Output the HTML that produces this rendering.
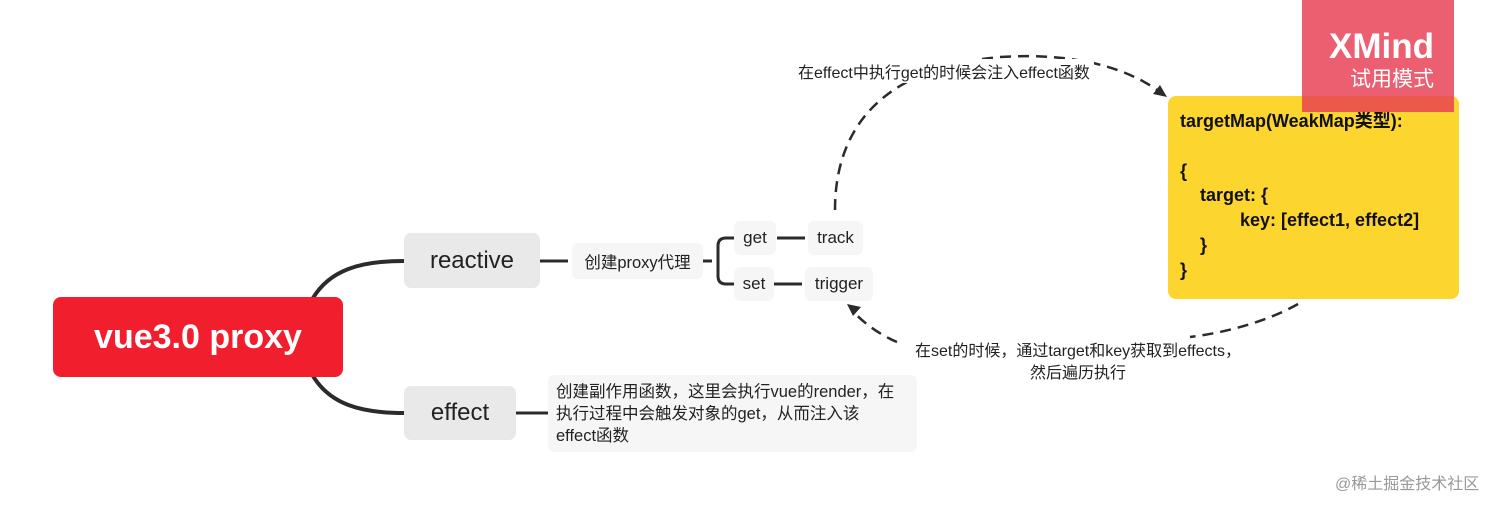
<!DOCTYPE html>
<html><head><meta charset="utf-8"><style>
body{margin:0;width:1512px;height:507px;background:#fff;position:relative;overflow:hidden;font-family:"Liberation Sans","Noto Sans CJK SC",sans-serif;color:#222}
.a{position:absolute;box-sizing:border-box;display:flex;align-items:center;justify-content:center;white-space:nowrap}
</style></head><body>
<svg width="1512" height="507" style="position:absolute;left:0;top:0">
<g fill="none" stroke="#2b2b2b" stroke-width="4" stroke-linecap="round">
<path d="M313,298 C330,270 360,261 404,261"/>
<path d="M313,376 C330,404 360,413 404,413"/>
</g>
<g fill="none" stroke="#2b2b2b" stroke-width="3">
<path d="M540,261 H568"/>
<path d="M516,413 H548"/>
<path d="M703,261 H712 M734,238 H726 Q718,238 718,246 V276 Q718,284 726,284 H734"/>
<path d="M777,238 H805"/>
<path d="M773,284 H802"/>
</g>
<g fill="none" stroke="#2b2b2b" stroke-width="2.5" stroke-dasharray="11,7">
<path d="M835,210 C835,150 860,70 1000,57 C1080,52 1130,70 1160,92"/>
<path d="M1298,304 C1270,320 1230,332 1190,337"/>
<path d="M897,342 C880,335 862,322 852,310"/>
</g>
<path d="M1167,97 L1153,94 L1160,85 Z" fill="#2b2b2b"/>
<path d="M847,304 L861,307 L853,316 Z" fill="#2b2b2b"/>
</svg>
<div class="a" style="left:53px;top:297px;width:290px;height:80px;background:#f11f2e;border-radius:8px;color:#fff;font-weight:bold;font-size:34px">vue3.0 proxy</div>
<div class="a" style="left:404px;top:233px;width:136px;height:55px;background:#e9e9e9;border-radius:7px;font-size:24px">reactive</div>
<div class="a" style="left:404px;top:386px;width:112px;height:54px;background:#e9e9e9;border-radius:7px;font-size:24px">effect</div>
<div class="a" style="left:572px;top:243px;width:131px;height:36px;background:#f6f6f6;border-radius:6px;font-size:16.5px">创建proxy代理</div>
<div class="a" style="left:734px;top:221px;width:42px;height:34px;background:#f6f6f6;border-radius:6px;font-size:17px">get</div>
<div class="a" style="left:808px;top:221px;width:55px;height:34px;background:#f6f6f6;border-radius:6px;font-size:17px">track</div>
<div class="a" style="left:734px;top:267px;width:40px;height:34px;background:#f6f6f6;border-radius:6px;font-size:17px">set</div>
<div class="a" style="left:805px;top:267px;width:68px;height:34px;background:#f6f6f6;border-radius:6px;font-size:17px">trigger</div>
<div style="position:absolute;left:548px;top:375px;width:369px;height:77px;background:#f6f6f6;border-radius:6px;font-size:16.5px;line-height:22px;padding:6px 8px;box-sizing:border-box;white-space:nowrap">创建副作用函数，这里会执行vue的render，在<br>执行过程中会触发对象的get，从而注入该<br>effect函数</div>
<div style="position:absolute;left:798px;top:59px;font-size:16px;background:#fff;white-space:nowrap;padding-right:4px">在effect中执行get的时候会注入effect函数</div>
<div style="position:absolute;left:892px;top:341px;width:372px;font-size:16px;line-height:22px;text-align:center;white-space:nowrap">在set的时候，通过target和key获取到effects，<br>然后遍历执行</div>
<div style="position:absolute;left:1168px;top:96px;width:291px;height:203px;background:#fdd52f;border-radius:8px;font-weight:bold;font-size:18px;line-height:24.8px;padding:13px 12px;box-sizing:border-box;white-space:pre;color:#111">targetMap(WeakMap类型):

{
    target: {
            key: [effect1, effect2]
    }
}</div>
<div style="position:absolute;left:1302px;top:0;width:152px;height:112px;background:rgba(232,60,80,0.82);color:#fff;text-align:right;padding-right:20px;box-sizing:border-box">
<div style="font-weight:bold;font-size:35px;margin-top:28px;line-height:38px">XMind</div>
<div style="font-size:21px;line-height:28px">试用模式</div></div>
<div style="position:absolute;left:1335px;top:470px;font-size:16px;color:#999;white-space:nowrap">@稀土掘金技术社区</div>
</body></html>
